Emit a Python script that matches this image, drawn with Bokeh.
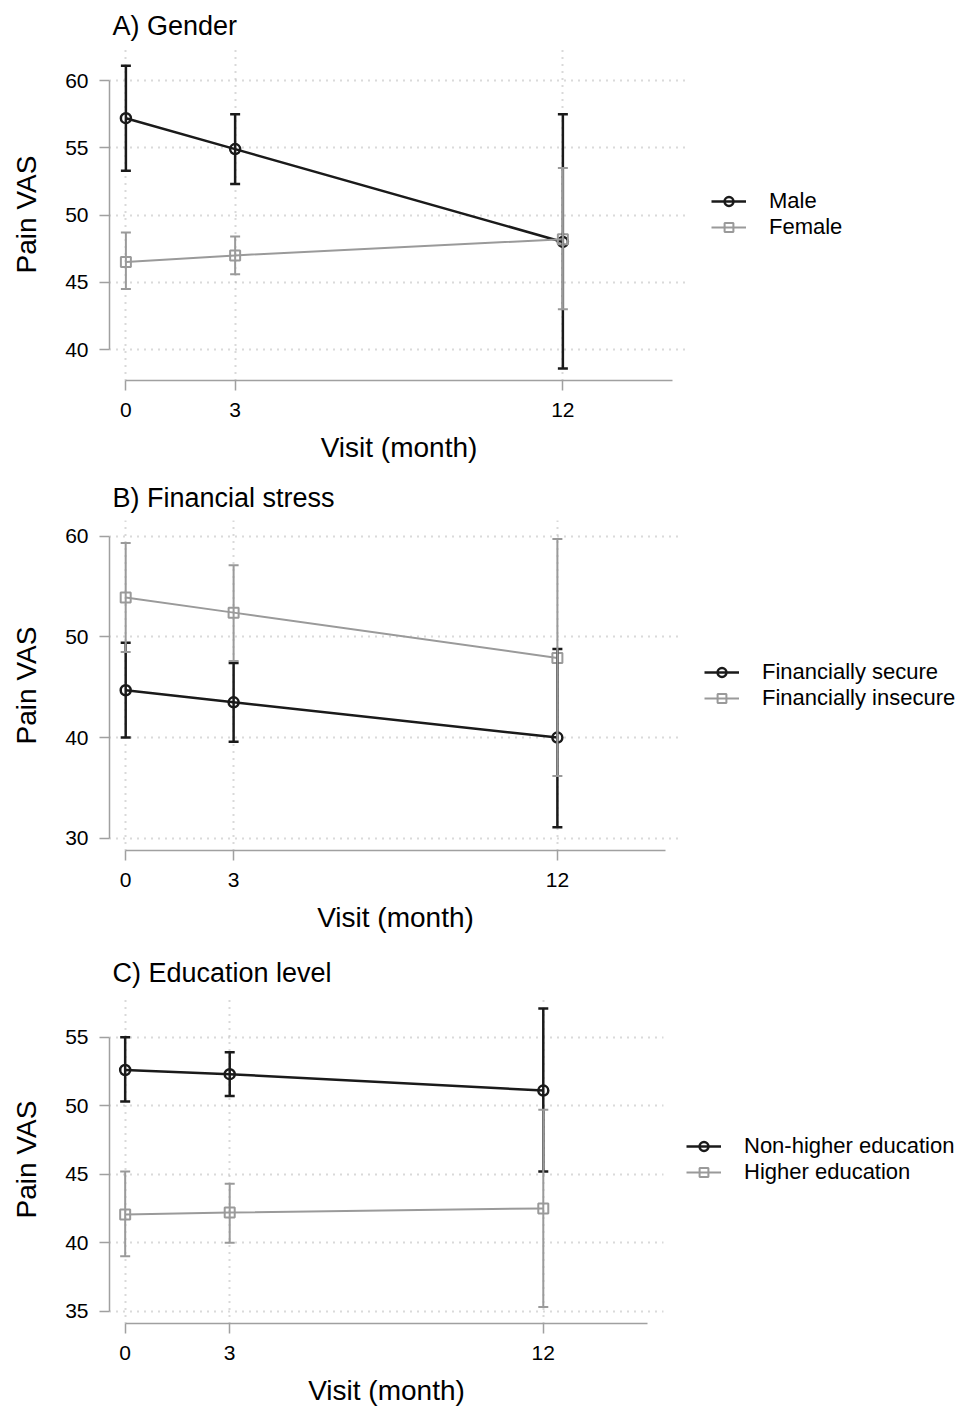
from bokeh.plotting import figure
from bokeh.layouts import column
from bokeh.models import (ColumnDataSource, Whisker, TeeHead, FixedTicker,
                          Legend, LegendItem, Range1d)
from bokeh.embed import file_html
from bokeh.resources import INLINE

months = [0, 3, 12]

# Panel A: Gender
male_mean = [57.2, 54.9, 48.0]
male_lo = [53.3, 52.3, 38.6]
male_hi = [61.1, 57.5, 57.5]
female_mean = [46.5, 47.0, 48.2]
female_lo = [44.5, 45.6, 43.0]
female_hi = [48.7, 48.4, 53.5]
ticks_a = [40, 45, 50, 55, 60]

# Panel B: Financial stress
secure_mean = [44.7, 43.5, 40.0]
secure_lo = [40.0, 39.6, 31.1]
secure_hi = [49.4, 47.4, 48.8]
insecure_mean = [53.9, 52.4, 47.9]
insecure_lo = [48.5, 47.6, 36.2]
insecure_hi = [59.3, 57.1, 59.7]
ticks_b = [30, 40, 50, 60]

# Panel C: Education level
nonhigher_mean = [52.6, 52.3, 51.1]
nonhigher_lo = [50.3, 50.7, 45.2]
nonhigher_hi = [55.0, 53.9, 57.1]
higher_mean = [42.05, 42.2, 42.5]
higher_lo = [39.0, 40.0, 35.3]
higher_hi = [45.2, 44.3, 49.7]
ticks_c = [35, 40, 45, 50, 55]

FONT = "Liberation Sans"
BLACK = "#1a1a1a"
GRAY = "#9a9a9a"
AXIS_GRAY = "#a0a0a0"


def panel(title, black, gray, labels, yticks, yr, fw, fh, top, bottom, right):
    p = figure(frame_width=fw, frame_height=fh,
               x_range=Range1d(-0.45, 15.45), y_range=Range1d(*yr),
               output_backend="svg", toolbar_location=None,
               min_border_left=109, min_border_right=right,
               min_border_top=top, min_border_bottom=bottom)
    p.outline_line_color = None
    p.title.text = title
    p.title.text_font = FONT
    p.title.text_font_size = "27px"
    p.title.text_font_style = "normal"
    p.title.text_color = "black"
    p.title.align = "left"
    p.title.offset = 3
    p.title.standoff = 16

    p.xaxis.ticker = FixedTicker(ticks=months)
    p.yaxis.ticker = FixedTicker(ticks=yticks)
    p.xaxis.bounds = (0, 15)
    p.yaxis.bounds = (yticks[0], yticks[-1])
    for ax in (p.xaxis, p.yaxis):
        ax.axis_line_color = AXIS_GRAY
        ax.axis_line_width = 1.5
        ax.major_tick_line_color = AXIS_GRAY
        ax.major_tick_line_width = 1.5
        ax.major_tick_out = 10
        ax.major_tick_in = 0
        ax.minor_tick_line_color = None
        ax.major_label_text_font = FONT
        ax.major_label_text_font_size = "21px"
        ax.major_label_text_color = "black"
        ax.axis_label_text_font = FONT
        ax.axis_label_text_font_size = "28px"
        ax.axis_label_text_font_style = "normal"
        ax.axis_label_text_color = "black"
    p.xaxis.major_label_standoff = 12
    p.yaxis.major_label_standoff = 11
    p.xaxis.axis_label = "Visit (month)"
    p.yaxis.axis_label = "Pain VAS"
    p.xaxis.axis_label_standoff = 12
    p.yaxis.axis_label_standoff = 20

    p.xgrid.ticker = FixedTicker(ticks=months)
    p.ygrid.ticker = FixedTicker(ticks=yticks)
    for g in (p.xgrid, p.ygrid):
        g.grid_line_color = "#b4b4b4"
        g.grid_line_dash = "1 6"
        g.grid_line_width = 2

    items = []
    specs = [(black, BLACK, 2.5, "circle", labels[0]),
             (gray, GRAY, 2.0, "square", labels[1])]
    for (mean, lo, hi), color, lw, marker, lab in specs:
        src = ColumnDataSource(dict(x=months, y=mean, lo=lo, hi=hi))
        w = Whisker(source=src, base="x", upper="hi", lower="lo",
                    dimension="height", line_color=color, line_width=lw,
                    upper_head=TeeHead(size=10, line_color=color, line_width=lw),
                    lower_head=TeeHead(size=10, line_color=color, line_width=lw),
                    level="glyph")
        p.add_layout(w)
        l = p.line("x", "y", source=src, line_color=color, line_width=lw)
        s = p.scatter("x", "y", source=src, marker=marker, size=10,
                      line_color=color, fill_color=None, line_width=lw)
        items.append(LegendItem(label=lab, renderers=[l, s]))

    leg = Legend(items=items, location="center_left",
                 border_line_color=None, background_fill_alpha=0,
                 label_text_font=FONT, label_text_font_size="22px",
                 label_text_color="black",
                 glyph_width=35, glyph_height=22, label_height=22,
                 spacing=0, padding=12, margin=23, label_standoff=23)
    p.add_layout(leg, "right")
    return p


pA = panel("A) Gender",
           (male_mean, male_lo, male_hi), (female_mean, female_lo, female_hi),
           ["Male", "Female"], ticks_a, (37.7, 62.38),
           579, 332, 48, 92, 270)
pB = panel("B) Financial stress",
           (secure_mean, secure_lo, secure_hi), (insecure_mean, insecure_lo, insecure_hi),
           ["Financially secure", "Financially insecure"], ticks_b, (28.8, 61.54),
           572, 330, 48, 97, 277)
pC = panel("C) Education level",
           (nonhigher_mean, nonhigher_lo, nonhigher_hi), (higher_mean, higher_lo, higher_hi),
           ["Non-higher education", "Higher education"], ticks_c, (34.1, 58.04),
           554, 328, 48, 80, 295)

layout = column(pA, pB, pC, spacing=0)
open("out.html", "w").write(file_html(layout, INLINE))
